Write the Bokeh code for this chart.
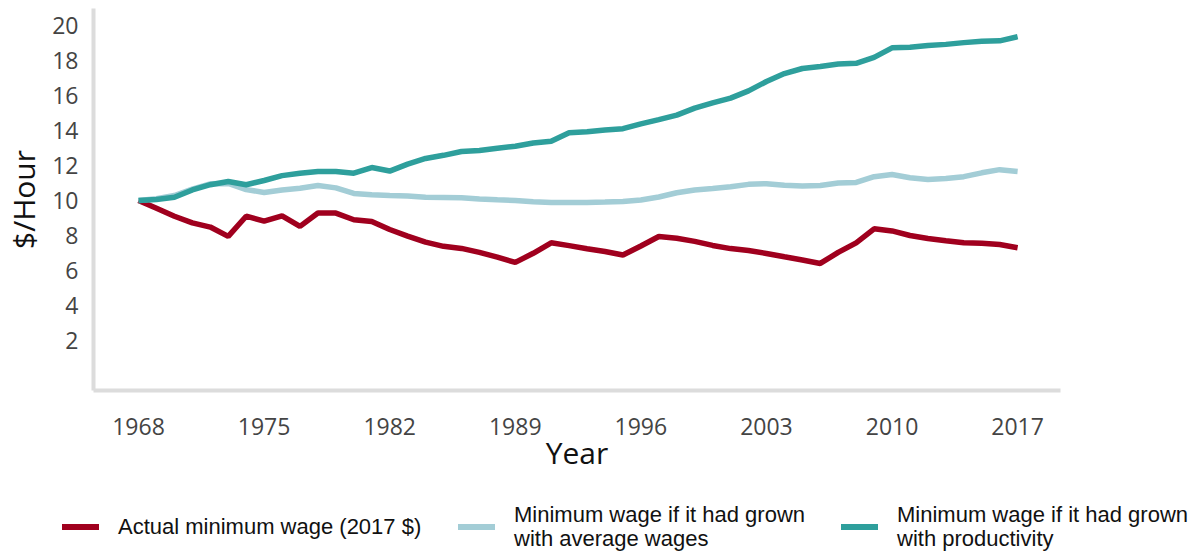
from bokeh.plotting import figure
from bokeh.layouts import column
from bokeh.models import Range1d, FixedTicker, Div
from bokeh.embed import file_html
from bokeh.resources import INLINE

years = list(range(1968, 2018))

actual = [10.0, 9.55, 9.1, 8.72, 8.48, 7.95, 9.1, 8.82, 9.12, 8.52,
          9.28, 9.28, 8.9, 8.8, 8.34, 7.96, 7.62, 7.38, 7.26, 7.03,
          6.76, 6.46, 6.98, 7.58, 7.42, 7.24, 7.08, 6.88, 7.4, 7.94,
          7.84, 7.66, 7.43, 7.25, 7.14, 6.97, 6.78, 6.6, 6.4, 7.03,
          7.58, 8.38, 8.26, 8.0, 7.83, 7.7, 7.58, 7.56, 7.48, 7.3]

avg_wages = [10.0, 10.1, 10.28, 10.65, 10.95, 10.97, 10.62, 10.46, 10.6, 10.7,
             10.85, 10.72, 10.4, 10.32, 10.28, 10.25, 10.18, 10.17, 10.15, 10.09,
             10.04, 10.0, 9.93, 9.89, 9.88, 9.89, 9.91, 9.94, 10.03, 10.2,
             10.44, 10.6, 10.68, 10.78, 10.92, 10.96, 10.87, 10.82, 10.86, 11.0,
             11.03, 11.36, 11.48, 11.3, 11.2, 11.25, 11.36, 11.58, 11.76, 11.66]

productivity = [10.0, 10.06, 10.18, 10.6, 10.9, 11.08, 10.9, 11.14, 11.42, 11.55,
                11.65, 11.66, 11.56, 11.88, 11.68, 12.08, 12.4, 12.58, 12.8, 12.86,
                12.98, 13.1, 13.28, 13.38, 13.87, 13.93, 14.03, 14.1, 14.38, 14.62,
                14.88, 15.28, 15.58, 15.85, 16.26, 16.8, 17.25, 17.54, 17.66, 17.8,
                17.84, 18.18, 18.72, 18.76, 18.86, 18.92, 19.02, 19.1, 19.12, 19.36]

x_ticks = [1968, 1975, 1982, 1989, 1996, 2003, 2010, 2017]
y_ticks = [2, 4, 6, 8, 10, 12, 14, 16, 18, 20]

labels = [["Actual minimum wage (2017 $)"],
          ["Minimum wage if it had grown", "with average wages"],
          ["Minimum wage if it had grown", "with productivity"]]
colors = ["#a0001e", "#a3cdd6", "#2e9f9c"]

p = figure(width=1196, height=480, output_backend="svg", toolbar_location=None,
           x_range=Range1d(1965.49, 2019.39), y_range=Range1d(-0.86, 20.97),
           min_border_left=92, min_border_right=136, min_border_top=8,
           min_border_bottom=90)
p.outline_line_color = None
p.xgrid.visible = False
p.ygrid.visible = False
p.background_fill_color = "white"
p.border_fill_color = "white"

p.line(years, actual, line_color=colors[0], line_width=5.5)
p.line(years, avg_wages, line_color=colors[1], line_width=5.5)
p.line(years, productivity, line_color=colors[2], line_width=5.5)

for ax in (p.xaxis[0], p.yaxis[0]):
    ax.axis_line_color = "#dcdcdc"
    ax.axis_line_width = 4
    ax.major_tick_line_color = None
    ax.minor_tick_line_color = None
    ax.major_label_text_font = "Open Sans"
    ax.major_label_text_font_size = "23px"
    ax.major_label_text_color = "#444444"
    ax.axis_label_text_font = "Open Sans"
    ax.axis_label_text_font_size = "30px"
    ax.axis_label_text_font_style = "normal"
    ax.axis_label_text_color = "#111111"

p.xaxis.ticker = FixedTicker(ticks=x_ticks)
p.yaxis.ticker = FixedTicker(ticks=y_ticks)
p.xaxis.axis_label = "Year"
p.yaxis.axis_label = "$/Hour"
p.xaxis.major_label_standoff = 21
p.xaxis.axis_label_standoff = -6
p.yaxis.major_label_standoff = 9
p.yaxis.axis_label_standoff = 5

# legend strip below the chart (swatch left edges, text left edges)
swatch_x = [62, 458, 841]
text_x = [118, 514, 897]
parts = []
for c, sx, tx, lab in zip(colors, swatch_x, text_x, labels):
    parts.append(f'<div style="position:absolute;left:{sx}px;top:44px;width:37px;'
                 f'height:6px;background:{c};"></div>')
    top = 47 - 12 * len(lab)
    parts.append(f'<div style="position:absolute;left:{tx}px;top:{top}px;'
                 f'line-height:24px;white-space:nowrap;">' + "<br>".join(lab) + '</div>')
legend_html = ('<div style="position:relative;width:1196px;height:72px;'
               'font-family:\'Liberation Sans\',Arial,sans-serif;font-size:22px;color:#111;">'
               + "".join(parts) + '</div>')
legend = Div(text=legend_html, width=1196, height=72, margin=0)

open("out.html", "w").write(file_html(column(p, legend, spacing=0), INLINE))
